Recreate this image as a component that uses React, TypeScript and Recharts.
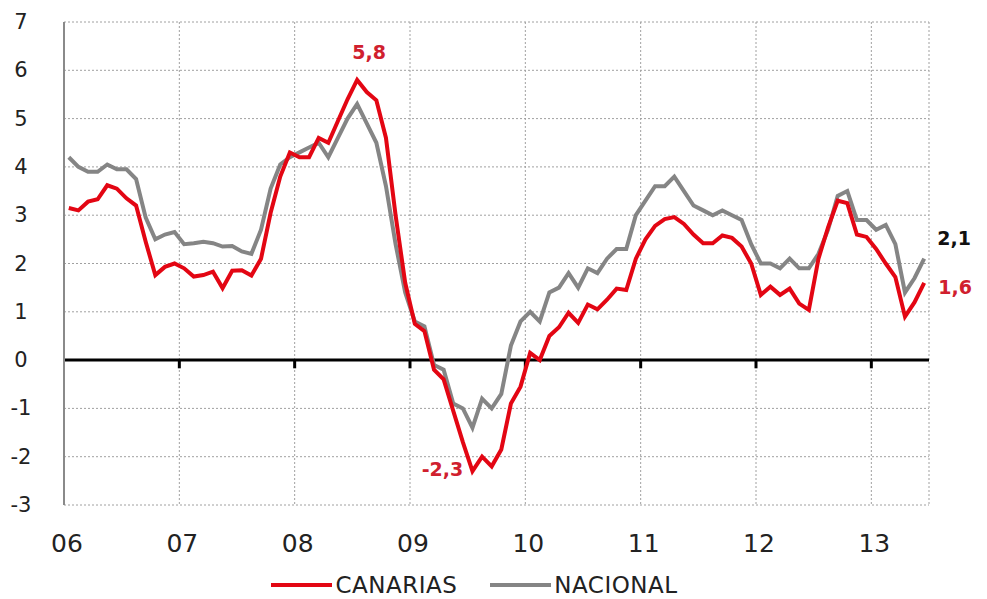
import React from "react"
import { LineChart, Line, XAxis, YAxis, CartesianGrid, ReferenceLine, Legend } from "recharts"

const years = ["06", "07", "08", "09", "10", "11", "12", "13"]

// monthly year-on-year change, Jan 2006 .. Jun 2013
const canarias = [
  3.15, 3.1, 3.28, 3.33, 3.62, 3.55, 3.35, 3.2, 2.45, 1.76, 1.93, 2.0,
  1.9, 1.73, 1.76, 1.83, 1.49, 1.85, 1.86, 1.75, 2.1, 3.05, 3.8, 4.3,
  4.2, 4.2, 4.6, 4.5, 4.95, 5.4, 5.8, 5.55, 5.38, 4.6, 3.0, 1.6,
  0.75, 0.6, -0.2, -0.4, -1.05, -1.7, -2.3, -2.0, -2.2, -1.85, -0.9, -0.55,
  0.15, 0.0, 0.5, 0.68, 0.98, 0.77, 1.15, 1.05, 1.25, 1.48, 1.45, 2.1,
  2.5, 2.78, 2.92, 2.96, 2.82, 2.6, 2.42, 2.42, 2.58, 2.53, 2.35, 2.0,
  1.35, 1.52, 1.35, 1.48, 1.17, 1.04, 2.1, 2.75, 3.3, 3.25, 2.6, 2.55,
  2.3, 2.0, 1.72, 0.9, 1.2, 1.6,
]

const nacional = [
  4.2, 4.0, 3.9, 3.9, 4.05, 3.95, 3.95, 3.75, 2.95, 2.5, 2.6, 2.65,
  2.4, 2.42, 2.45, 2.42, 2.35, 2.36, 2.25, 2.2, 2.7, 3.55, 4.05, 4.2,
  4.3, 4.4, 4.5, 4.2, 4.6, 5.0, 5.3, 4.9, 4.5, 3.6, 2.4, 1.4,
  0.8, 0.7, -0.1, -0.2, -0.9, -1.0, -1.4, -0.8, -1.0, -0.7, 0.3, 0.8,
  1.0, 0.8, 1.4, 1.5, 1.8, 1.5, 1.9, 1.8, 2.1, 2.3, 2.3, 3.0,
  3.3, 3.6, 3.6, 3.8, 3.5, 3.2, 3.1, 3.0, 3.1, 3.0, 2.9, 2.4,
  2.0, 2.0, 1.9, 2.1, 1.9, 1.9, 2.2, 2.7, 3.4, 3.5, 2.9, 2.9,
  2.7, 2.8, 2.4, 1.4, 1.7, 2.1,
]

const yTicks = [-3, -2, -1, 0, 1, 2, 3, 4, 5, 6, 7]

const data = canarias.map((c, i) => ({ m: i + 0.5, canarias: c, nacional: nacional[i] }))
const yearTicks = years.map((_, i) => i * 12)

const RED = "#e30613"
const GRAY = "#858585"
const FONT = "'DejaVu Sans', sans-serif"

// which points get a value label, and where
const redLabels: Record<number, { dx: number; dy: number }> = {
  30: { dx: 12, dy: -28 },
  42: { dx: -30, dy: -2 },
  89: { dx: 31, dy: 4 },
}
const grayLabels: Record<number, { dx: number; dy: number }> = {
  89: { dx: 30, dy: -21 },
}

function makeLabel(which: Record<number, { dx: number; dy: number }>, color: string) {
  return (props: any) => {
    const { x, y, index, value } = props
    const pos = which[index]
    if (!pos) return null
    return (
      <text
        x={x + pos.dx}
        y={y + pos.dy}
        textAnchor="middle"
        dominantBaseline="central"
        fill={color}
        fontFamily={FONT}
        fontWeight="bold"
        fontSize={19}
      >
        {value.toFixed(1).replace(".", ",")}
      </text>
    )
  }
}

function YearTick({ x, y, payload }: any) {
  return (
    <text x={x + 3} y={y + 30} textAnchor="middle" dominantBaseline="central" fill="#222" fontFamily={FONT} fontSize={25}>
      {years[payload.value / 12]}
    </text>
  )
}

function ValueTick({ y, payload }: any) {
  return (
    <text x={21} y={y} textAnchor="middle" dominantBaseline="central" fill="#222" fontFamily={FONT} fontSize={21}>
      {payload.value}
    </text>
  )
}

function LegendBox() {
  const item = (color: string, name: string, gap: number) => (
    <div style={{ display: "flex", alignItems: "center", marginRight: gap }}>
      <div style={{ width: 61, height: 4, background: color, marginRight: 3 }} />
      <span style={{ fontFamily: FONT, fontSize: 23, letterSpacing: 0.5, lineHeight: "28px", color: "#222" }}>{name}</span>
    </div>
  )
  return (
    <div style={{ display: "flex", justifyContent: "center", alignItems: "flex-end", height: 50, paddingLeft: 20 }}>
      {item(RED, "CANARIAS", 33)}
      {item(GRAY, "NACIONAL", 0)}
    </div>
  )
}

export default function App() {
  return (
    <div style={{ position: "absolute", left: 0, top: 0, background: "#fff" }}>
      <LineChart width={987} height={599} data={data} margin={{ top: 22, right: 58, left: 0, bottom: 0 }}>
        <CartesianGrid stroke="#a0a0a0" strokeDasharray="2 2" />
        <XAxis
          dataKey="m"
          type="number"
          domain={[0, 90]}
          ticks={yearTicks}
          interval={0}
          axisLine={false}
          tickLine={false}
          height={44}
          tick={<YearTick />}
        />
        <YAxis
          domain={[-3, 7]}
          ticks={yTicks}
          interval={0}
          width={64}
          axisLine={{ stroke: "#8a8a8a", strokeWidth: 2 }}
          tickLine={false}
          tick={<ValueTick />}
        />
        <ReferenceLine y={0} stroke="#000" strokeWidth={3} />
        {yearTicks.slice(1).map((t) => (
          <ReferenceLine key={t} segment={[{ x: t, y: 0 }, { x: t, y: -0.17 }]} stroke="#000" strokeWidth={3} />
        ))}
        <Legend verticalAlign="bottom" height={50} content={<LegendBox />} />
        <Line
          type="linear"
          dataKey="nacional"
          name="NACIONAL"
          stroke={GRAY}
          strokeWidth={4}
          dot={false}
          isAnimationActive={false}
          label={makeLabel(grayLabels, "#111")}
        />
        <Line
          type="linear"
          dataKey="canarias"
          name="CANARIAS"
          stroke={RED}
          strokeWidth={4}
          dot={false}
          isAnimationActive={false}
          label={makeLabel(redLabels, "#d0202e")}
        />
      </LineChart>
    </div>
  )
}
